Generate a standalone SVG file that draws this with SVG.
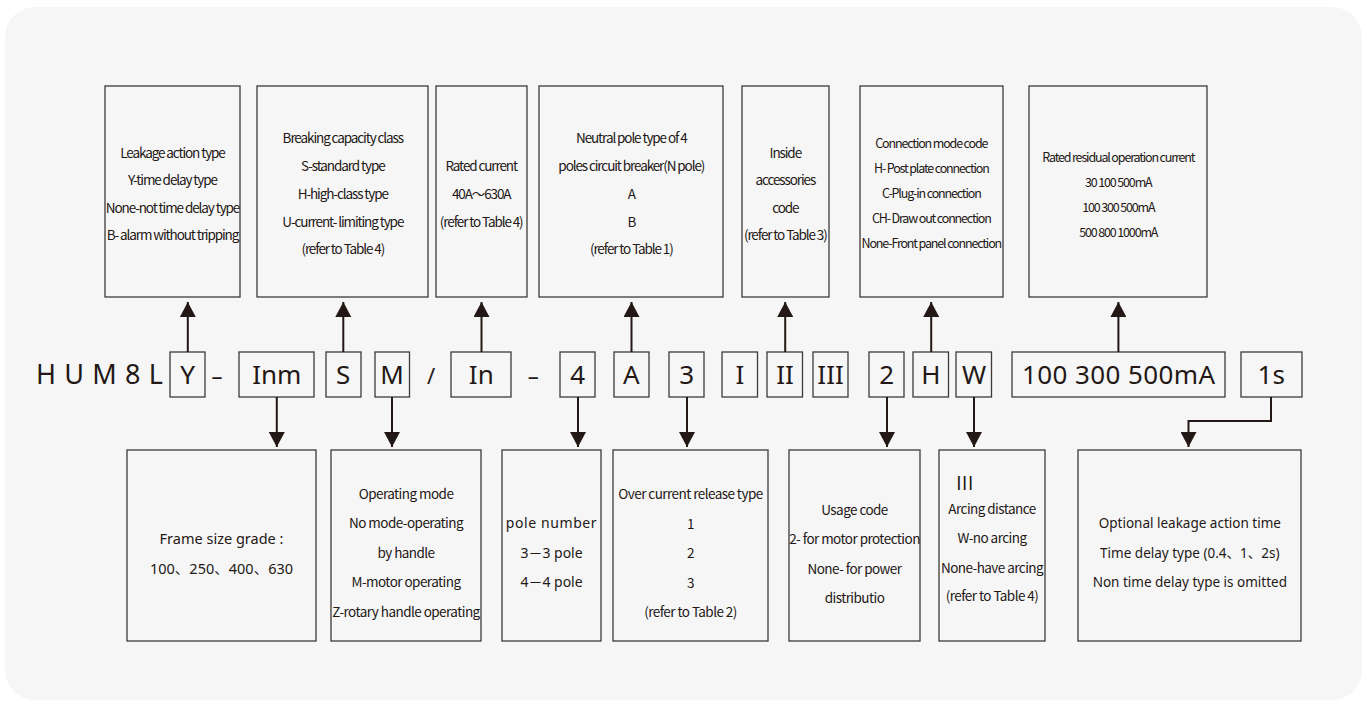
<svg xmlns="http://www.w3.org/2000/svg" width="1367" height="707" viewBox="0 0 1367 707">
  <defs>
    <style>
      .panel { fill: #f6f6f6; }
      .box { fill: none; stroke: #3e3a39; stroke-width: 1.3; }
      .wire { fill: none; stroke: #231815; stroke-width: 2; }
      .t { fill: #231815; font-family: "Noto Sans CJK SC", "Noto Sans", sans-serif; font-size: 13.5px; letter-spacing: -0.55px; text-anchor: middle; }
      .tc { fill: #231815; font-family: "Noto Sans CJK SC", "Noto Sans", sans-serif; font-size: 13.5px; letter-spacing: -1.1px; text-anchor: middle; }
      .ts { fill: #231815; font-family: "Noto Sans CJK SC", "Noto Sans", sans-serif; font-size: 12.5px; letter-spacing: -1.15px; text-anchor: middle; }
      .tw { fill: #231815; font-family: "Noto Sans", "Noto Sans CJK SC", sans-serif; font-size: 14px; text-anchor: middle; }
      .code { fill: #231815; font-family: "Noto Sans", "Noto Sans CJK SC", sans-serif; font-size: 26px; text-anchor: middle; }
    </style>
    <marker id="head" viewBox="0 0 15 16" refX="15" refY="8" markerWidth="15" markerHeight="16" markerUnits="userSpaceOnUse" orient="auto">
      <path d="M0,0 L15,8 L0,16 Z" fill="#231815"/>
    </marker>
  </defs>

  <rect width="1367" height="707" fill="#ffffff"/>
  <rect class="panel" x="5" y="7" width="1357" height="693" rx="30"/>

  <!-- description boxes above the code -->
  <g id="leakage-type">
    <rect class="box" x="105" y="86" width="135" height="211"/>
    <text class="tc" x="172.5" y="157.5">Leakage action type</text>
    <text class="tc" x="172.5" y="185">Y-time delay type</text>
    <text class="tc" x="172.5" y="212.5">None-not time delay type</text>
    <text class="tc" x="172.5" y="240">B- alarm without tripping</text>
  </g>
  <g id="breaking-capacity">
    <rect class="box" x="257" y="86" width="171" height="211"/>
    <text class="tc" x="342.8" y="143">Breaking capacity class</text>
    <text class="tc" x="342.8" y="171">S-standard type</text>
    <text class="tc" x="342.8" y="199">H-high-class type</text>
    <text class="tc" x="342.8" y="226.5">U-current- limiting type</text>
    <text class="tc" x="342.8" y="254">(refer to Table 4)</text>
  </g>
  <g id="rated-current">
    <rect class="box" x="436" y="86" width="91" height="211"/>
    <text class="tc" x="481.2" y="171">Rated current</text>
    <text class="tc" x="481.2" y="199">40A～630A</text>
    <text class="tc" x="481.2" y="226.5">(refer to Table 4)</text>
  </g>
  <g id="neutral-pole">
    <rect class="box" x="539" y="86" width="184" height="211"/>
    <text class="tc" x="631.3" y="143">Neutral pole type of 4</text>
    <text class="tc" x="631.3" y="171">poles circuit breaker(N pole)</text>
    <text class="tc" x="631.3" y="199">A</text>
    <text class="tc" x="631.3" y="226.5">B</text>
    <text class="tc" x="631.3" y="254">(refer to Table 1)</text>
  </g>
  <g id="accessories">
    <rect class="box" x="742" y="86" width="87" height="211"/>
    <text class="tc" x="785.3" y="157.5">Inside</text>
    <text class="tc" x="785.3" y="185">accessories</text>
    <text class="tc" x="785.3" y="212.5">code</text>
    <text class="tc" x="785.3" y="240">(refer to Table 3)</text>
  </g>
  <g id="connection-mode">
    <rect class="box" x="860" y="86" width="143" height="211"/>
    <text class="ts" x="931.3" y="148">Connection mode code</text>
    <text class="ts" x="931.3" y="173">H- Post plate connection</text>
    <text class="ts" x="931.3" y="198">C-Plug-in connection</text>
    <text class="ts" x="931.3" y="223">CH- Draw out connection</text>
    <text class="ts" x="931.3" y="248">None-Front panel connection</text>
  </g>
  <g id="residual-current">
    <rect class="box" x="1029" y="86" width="178" height="211"/>
    <text class="ts" x="1118.3" y="162">Rated residual operation current</text>
    <text class="ts" x="1118.3" y="187">30 100 500mA</text>
    <text class="ts" x="1118.3" y="212">100 300 500mA</text>
    <text class="ts" x="1118.3" y="237">500 800 1000mA</text>
  </g>

  <!-- model code row -->
  <g id="code-row">
    <text class="code" x="36" y="384.3" style="text-anchor:start;font-size:27px" textLength="127" lengthAdjust="spacing">HUM8L</text>
    <rect class="box" x="170" y="352" width="35" height="45"/><text class="code" x="187.5" y="384.3">Y</text>
    <text class="code" x="217" y="384.3" style="font-size:22px">–</text>
    <rect class="box" x="239" y="352" width="75" height="45"/><text class="code" x="276.8" y="384.3">Inm</text>
    <rect class="box" x="326" y="352" width="35" height="45"/><text class="code" x="343.2" y="384.3">S</text>
    <rect class="box" x="375" y="352" width="34.5" height="45"/><text class="code" x="392" y="384.3">M</text>
    <text class="code" x="431" y="384.3" style="font-size:22px">/</text>
    <rect class="box" x="451" y="352" width="60" height="45"/><text class="code" x="481.3" y="384.3">In</text>
    <text class="code" x="533.3" y="384.3" style="font-size:22px">–</text>
    <rect class="box" x="560" y="352" width="35" height="45"/><text class="code" x="577.8" y="384.3">4</text>
    <rect class="box" x="614" y="352" width="35" height="45"/><text class="code" x="631.3" y="384.3">A</text>
    <rect class="box" x="669" y="352" width="35" height="45"/><text class="code" x="686.8" y="384.3">3</text>
    <rect class="box" x="722" y="352" width="35.5" height="45"/><text class="code" x="740" y="384.3">I</text>
    <rect class="box" x="767" y="352" width="35.5" height="45"/><text class="code" x="785" y="384.3">II</text>
    <rect class="box" x="813" y="352" width="35" height="45"/><text class="code" x="830.6" y="384.3">III</text>
    <rect class="box" x="869" y="352" width="35" height="45"/><text class="code" x="886.8" y="384.3">2</text>
    <rect class="box" x="913" y="352" width="35.5" height="45"/><text class="code" x="931" y="384.3">H</text>
    <rect class="box" x="956" y="352" width="35.5" height="45"/><text class="code" x="974" y="384.3">W</text>
    <rect class="box" x="1012" y="352" width="213" height="45"/><text class="code" x="1118.5" y="384.3" textLength="193" lengthAdjust="spacing">100 300 500mA</text>
    <rect class="box" x="1241" y="352" width="61" height="45"/><text class="code" x="1271.2" y="384.3">1s</text>
  </g>

  <!-- description boxes below the code -->
  <g id="frame-size">
    <rect class="box" x="127" y="450" width="189" height="191"/>
    <text class="tw" x="221.5" y="544" style="font-size:14.5px">Frame size grade :</text>
    <text class="tw" x="221.5" y="574" style="font-size:14.5px">100、250、400、630</text>
  </g>
  <g id="operating-mode">
    <rect class="box" x="331" y="450" width="150" height="191"/>
    <text class="t" x="406" y="498.5">Operating mode</text>
    <text class="t" x="406" y="528">No mode-operating</text>
    <text class="t" x="406" y="557.5">by handle</text>
    <text class="t" x="406" y="587">M-motor operating</text>
    <text class="t" x="406" y="617">Z-rotary handle operating</text>
  </g>
  <g id="pole-number">
    <rect class="box" x="502" y="450" width="99" height="191"/>
    <text class="tw" x="551.5" y="528" style="letter-spacing:0.6px">pole number</text>
    <text class="tw" x="551.5" y="557.5">3－3 pole</text>
    <text class="tw" x="551.5" y="587">4－4 pole</text>
  </g>
  <g id="release-type">
    <rect class="box" x="613" y="450" width="155" height="191"/>
    <text class="t" x="690.5" y="498.5">Over current release type</text>
    <text class="t" x="690.5" y="528.5">1</text>
    <text class="t" x="690.5" y="558">2</text>
    <text class="t" x="690.5" y="587.5">3</text>
    <text class="t" x="690.5" y="616.5">(refer to Table 2)</text>
  </g>
  <g id="usage-code">
    <rect class="box" x="789" y="450" width="131" height="191"/>
    <text class="t" x="854.5" y="514.5">Usage code</text>
    <text class="t" x="854.5" y="544">2- for motor protection</text>
    <text class="t" x="854.5" y="573.5">None- for power</text>
    <text class="t" x="854.5" y="603">distributio</text>
  </g>
  <g id="arcing-distance">
    <rect class="box" x="939" y="450" width="106" height="191"/>
    <text x="965" y="489.5" style="fill:#231815;font-family:'Noto Sans CJK SC','Noto Sans',sans-serif;font-size:18px;letter-spacing:0.5px;text-anchor:middle">III</text>
    <text class="t" x="992" y="513.5">Arcing distance</text>
    <text class="t" x="992" y="543">W-no arcing</text>
    <text class="t" x="992" y="572.5">None-have arcing</text>
    <text class="t" x="992" y="601">(refer to Table 4)</text>
  </g>
  <g id="action-time">
    <rect class="box" x="1078" y="450" width="223" height="191"/>
    <text class="tw" x="1189.8" y="527.5" style="font-size:13.5px">Optional leakage action time</text>
    <text class="tw" x="1189.8" y="558" style="font-size:13.5px">Time delay type (0.4、1、2s)</text>
    <text class="tw" x="1189.8" y="586.5" style="font-size:13.5px">Non time delay type is omitted</text>
  </g>

  <!-- connectors -->
  <g id="connectors">
    <path class="wire" d="M187.8,352 V302" marker-end="url(#head)"/>
    <path class="wire" d="M343.3,352 V302" marker-end="url(#head)"/>
    <path class="wire" d="M481.5,352 V302" marker-end="url(#head)"/>
    <path class="wire" d="M631.5,352 V302" marker-end="url(#head)"/>
    <path class="wire" d="M785.2,352 V302" marker-end="url(#head)"/>
    <path class="wire" d="M931.2,352 V302" marker-end="url(#head)"/>
    <path class="wire" d="M1118.4,352 V302" marker-end="url(#head)"/>
    <path class="wire" d="M276.8,397 V447" marker-end="url(#head)"/>
    <path class="wire" d="M392,397 V447" marker-end="url(#head)"/>
    <path class="wire" d="M578,397 V447" marker-end="url(#head)"/>
    <path class="wire" d="M687,397 V447" marker-end="url(#head)"/>
    <path class="wire" d="M887,397 V447" marker-end="url(#head)"/>
    <path class="wire" d="M974,397 V447" marker-end="url(#head)"/>
    <path class="wire" d="M1271,397 V421 H1188.5 V447" marker-end="url(#head)"/>
  </g>
</svg>
